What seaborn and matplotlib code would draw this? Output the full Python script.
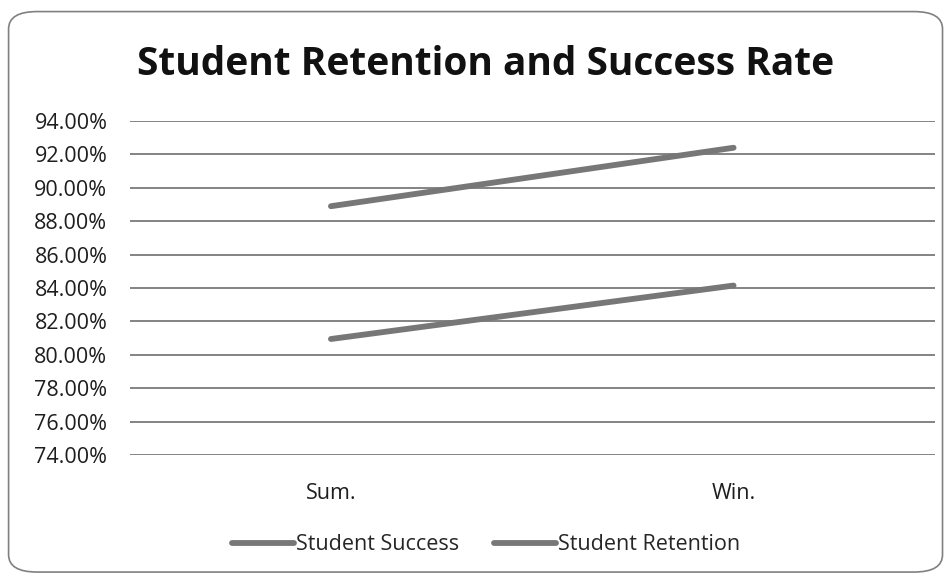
import pandas as pd
import matplotlib.pyplot as plt
import seaborn as sns
from matplotlib.patches import FancyBboxPatch
from matplotlib.ticker import PercentFormatter

# chart values
terms = ["Sum.", "Win."]
success = [80.95, 84.15]
retention = [88.9, 92.4]
series = ["Student Success", "Student Retention"]
y_ticks = list(range(74, 95, 2))

df = pd.DataFrame({
    "term": terms * 2,
    "rate": success + retention,
    "series": [series[0]] * 2 + [series[1]] * 2,
})

sns.set_theme(style="white")
plt.rcParams["font.family"] = ["Open Sans", "DejaVu Sans"]

fig = plt.figure(figsize=(9.53, 5.79), dpi=100)
ax = fig.add_axes([0.136, 0.214, 0.845, 0.577])

line_col = "#777777"
sns.lineplot(data=df, x="term", y="rate", hue="series", palette=[line_col, line_col],
             linewidth=4.2, ax=ax, legend=False, zorder=3)

ax.set_ylim(74, 94)
ax.set_xlim(-0.5, 1.5)
ax.set_yticks(y_ticks)
ax.yaxis.set_major_formatter(PercentFormatter(decimals=2))
ax.grid(axis="y", color="#7a7a7a", linewidth=1.3)
ax.set_xlabel("")
ax.set_ylabel("")
for s in ax.spines.values():
    s.set_visible(False)
ax.tick_params(axis="y", labelsize=15.5, colors="#1e1e1e", pad=16, length=0)
ax.tick_params(axis="x", labelsize=15.5, colors="#1e1e1e", pad=20, length=0)

fig.text(0.509, 0.888, "Student Retention and Success Rate", ha="center", va="center",
         fontsize=28, fontweight="bold", color="#111111")

handles = [plt.Line2D([], [], color=line_col, linewidth=4.2) for _ in series]
fig.legend(handles, series, loc="center", bbox_to_anchor=(0.51, 0.059), ncol=2,
           frameon=False, fontsize=15.5, handlelength=2.9, handletextpad=0.08,
           columnspacing=1.6)

border = FancyBboxPatch((0.009, 0.012), 0.98, 0.968, boxstyle="round,pad=0,rounding_size=0.03",
                        transform=fig.transFigure, fill=False, edgecolor="#808080", linewidth=1.2)
fig.patches.append(border)

fig.savefig("out.png", dpi=100)
